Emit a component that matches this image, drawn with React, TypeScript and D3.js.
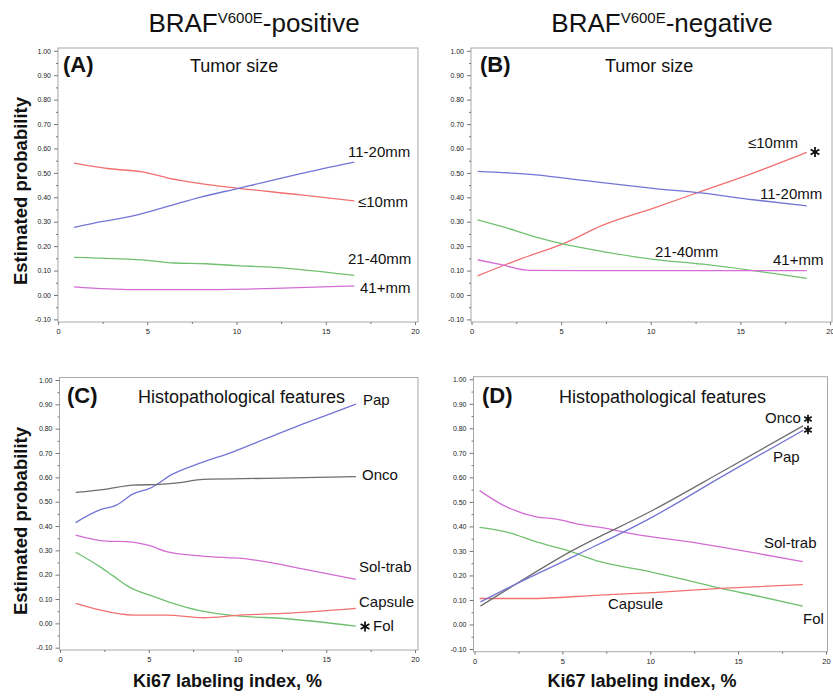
import { useEffect, useRef } from 'react';
import * as d3 from 'd3';

const FONT = '"Liberation Sans", Arial, Helvetica, sans-serif';

// axis ticks
const xTicks = [0, 5, 10, 15, 20];
const xMinor = [2.5, 7.5, 12.5, 17.5];
const yTicks = [-0.1, 0, 0.1, 0.2, 0.3, 0.4, 0.5, 0.6, 0.7, 0.8, 0.9, 1.0];
const yMinor = [-0.05, 0.05, 0.15, 0.25, 0.35, 0.45, 0.55, 0.65, 0.75, 0.85, 0.95];

// (A) BRAF positive, tumor size  [Ki67 %, probability]
const posLe10 = [[0.9, 0.54], [2.9, 0.517], [4.8, 0.503], [6.1, 0.48], [8.0, 0.456], [10.0, 0.438], [13.6, 0.41], [16.6, 0.385]];
const pos11to20 = [[0.9, 0.277], [2.5, 0.301], [4.2, 0.324], [6.1, 0.362], [8.0, 0.401], [10.0, 0.435], [11.7, 0.464], [13.6, 0.497], [16.6, 0.544]];
const pos21to40 = [[0.9, 0.154], [3.1, 0.149], [5.0, 0.142], [6.5, 0.131], [8.3, 0.128], [10.0, 0.12], [11.7, 0.115], [13.6, 0.104], [16.6, 0.08]];
const pos41plus = [[0.9, 0.033], [4.2, 0.022], [8.0, 0.022], [11.7, 0.026], [16.6, 0.037]];

// (B) BRAF negative, tumor size
const negLe10 = [[0.34, 0.078], [2.67, 0.146], [5.1, 0.209], [7.33, 0.286], [10.12, 0.355], [12.92, 0.427], [15.71, 0.499], [18.7, 0.584]];
const neg11to20 = [[0.34, 0.506], [3.6, 0.492], [6.39, 0.468], [10.12, 0.437], [12.92, 0.417], [15.71, 0.39], [18.7, 0.365]];
const neg21to40 = [[0.34, 0.308], [1.73, 0.28], [3.6, 0.237], [5.1, 0.209], [7.33, 0.178], [10.12, 0.146], [12.92, 0.126], [15.71, 0.1], [18.7, 0.068]];
const neg41plus = [[0.34, 0.144], [1.73, 0.123], [3.22, 0.101], [6.39, 0.1], [12.92, 0.1], [18.7, 0.1]];

// (C) BRAF positive, histopathological features
const posPap = [[0.88, 0.414], [2.24, 0.466], [3.18, 0.486], [4.12, 0.532], [5.06, 0.555], [6.37, 0.614], [7.88, 0.658], [9.76, 0.705], [11.64, 0.76], [13.52, 0.815], [15.4, 0.866], [16.67, 0.901]];
const posOnco = [[0.88, 0.538], [2.61, 0.552], [4.12, 0.568], [5.62, 0.571], [6.75, 0.578], [8.06, 0.592], [11.64, 0.596], [16.67, 0.603]];
const posSolTrab = [[0.88, 0.363], [2.61, 0.338], [3.74, 0.336], [5.06, 0.319], [6.0, 0.295], [7.88, 0.277], [10.7, 0.263], [11.64, 0.253], [13.52, 0.226], [16.67, 0.181]];
const posFol = [[0.88, 0.292], [2.24, 0.233], [2.99, 0.195], [3.93, 0.148], [5.06, 0.116], [6.37, 0.082], [7.88, 0.052], [10.13, 0.03], [12.58, 0.02], [16.67, -0.011]];
const posCapsule = [[0.88, 0.082], [2.24, 0.055], [4.12, 0.034], [6.0, 0.034], [8.06, 0.023], [10.13, 0.034], [12.58, 0.041], [16.67, 0.062]];

// (D) BRAF negative, histopathological features
const negOnco = [[0.34, 0.075], [1.8, 0.14], [5.4, 0.295], [10.17, 0.467], [14.0, 0.62], [18.7, 0.81]];
const negPap = [[0.34, 0.092], [1.8, 0.145], [5.8, 0.283], [10.17, 0.44], [14.0, 0.6], [18.7, 0.792]];
const negSolTrab = [[0.29, 0.546], [1.62, 0.487], [3.52, 0.439], [4.66, 0.43], [5.99, 0.408], [7.15, 0.396], [9.0, 0.37], [12.85, 0.33], [15.87, 0.293], [18.68, 0.256]];
const negFol = [[0.29, 0.396], [2.0, 0.374], [3.52, 0.337], [5.23, 0.303], [7.15, 0.256], [10.0, 0.215], [11.9, 0.184], [14.0, 0.147], [16.3, 0.113], [18.68, 0.075]];
const negCapsule = [[0.29, 0.106], [3.1, 0.106], [7.15, 0.12], [10.17, 0.13], [14.0, 0.147], [18.68, 0.163]];

const RED = '#f27070';
const BLUE = '#7474d6';
const GREEN = '#70c070';
const PINK = '#d46cd4';
const GRAY = '#6e6e6e';

const panels = [
  {
    tag: '(A)', tagPos: [63, 72], title: 'Tumor size', titlePos: [190, 72],
    frame: [58, 48, 418, 322], xr: [58, 415], yr: [319.4, 50.8],
    series: [[posLe10, RED], [pos11to20, BLUE], [pos21to40, GREEN], [pos41plus, PINK]],
    labels: [['11-20mm', 348, 157], ['\u226410mm', 358, 206.5], ['21-40mm', 348, 264], ['41+mm', 360, 292.5]],
    stars: [],
  },
  {
    tag: '(B)', tagPos: [480, 72], title: 'Tumor size', titlePos: [605, 72],
    frame: [471, 48, 832, 322], xr: [471.5, 830], yr: [319.4, 50.8],
    series: [[negLe10, RED], [neg11to20, BLUE], [neg21to40, GREEN], [neg41plus, PINK]],
    labels: [['\u226410mm', 748, 148], ['11-20mm', 760, 199], ['21-40mm', 655, 257], ['41+mm', 773, 265]],
    stars: [[815, 152, 5]],
  },
  {
    tag: '(C)', tagPos: [67, 403], title: 'Histopathological features', titlePos: [138, 403],
    frame: [59.5, 377.5, 418, 650], xr: [60, 415], yr: [647.7, 380],
    series: [[posPap, BLUE], [posOnco, GRAY], [posSolTrab, PINK], [posFol, GREEN], [posCapsule, RED]],
    labels: [['Pap', 363, 405], ['Onco', 362, 480], ['Sol-trab', 359, 572], ['Capsule', 359, 607], ['Fol', 373, 631]],
    stars: [[365, 626.5, 5]],
  },
  {
    tag: '(D)', tagPos: [482, 403], title: 'Histopathological features', titlePos: [559, 403],
    frame: [473.5, 376.7, 827.5, 651.7], xr: [474.5, 826], yr: [649, 379.3],
    series: [[negSolTrab, PINK], [negFol, GREEN], [negCapsule, RED], [negOnco, GRAY], [negPap, BLUE]],
    labels: [['Onco', 765, 422.5], ['Pap', 773, 461.5], ['Sol-trab', 764, 548], ['Capsule', 608, 609], ['Fol', 803, 624]],
    stars: [[808, 419, 4.3], [808, 430, 4.3]],
  },
];

const headers = [['positive', 254], ['negative', 662]];
const yLabels = [191, 521];
const xLabels = [[227.5, 687], [642, 687]];

export default function App() {
  const svgRef = useRef(null);

  useEffect(() => {
    const svg = d3.select(svgRef.current);
    svg.selectAll('*').remove();
    svg.append('rect').attr('width', 833).attr('height', 696).attr('fill', '#fff');

    headers.forEach(([word, cx]) => {
      const t = svg.append('text')
        .attr('x', cx).attr('y', 32)
        .attr('text-anchor', 'middle')
        .attr('font-family', FONT).attr('font-size', 26).attr('fill', '#111');
      t.append('tspan').text('BRAF');
      t.append('tspan').attr('font-size', 15).attr('dy', -9).text('V600E');
      t.append('tspan').attr('dy', 9).text(`-${word}`);
    });

    yLabels.forEach((cy) => {
      svg.append('text')
        .attr('transform', `translate(27,${cy}) rotate(-90)`)
        .attr('text-anchor', 'middle')
        .attr('font-family', FONT).attr('font-size', 18.5).attr('font-weight', 700).attr('fill', '#111')
        .text('Estimated probability');
    });

    xLabels.forEach(([cx, by]) => {
      svg.append('text')
        .attr('x', cx).attr('y', by)
        .attr('text-anchor', 'middle')
        .attr('font-family', FONT).attr('font-size', 18).attr('font-weight', 700).attr('fill', '#111')
        .text('Ki67 labeling index, %');
    });

    panels.forEach((p) => {
      const [fl, ft, fr, fb] = p.frame;
      const x = d3.scaleLinear().domain([0, 20]).range(p.xr);
      const y = d3.scaleLinear().domain([-0.1, 1.0]).range(p.yr);
      const g = svg.append('g');

      g.append('rect')
        .attr('x', fl).attr('y', ft).attr('width', fr - fl).attr('height', fb - ft)
        .attr('fill', 'none').attr('stroke', '#a8a8a8').attr('stroke-width', 1);

      const styleAxis = (sel) => {
        sel.select('.domain').remove();
        sel.selectAll('line').attr('stroke', '#777');
        sel.selectAll('text').attr('fill', '#222').attr('font-family', FONT);
      };

      // y axis
      g.append('g').attr('transform', `translate(${fl},0)`)
        .call(d3.axisLeft(y).tickValues(yMinor).tickSize(2).tickFormat(() => ''))
        .call(styleAxis);
      g.append('g').attr('transform', `translate(${fl},0)`)
        .call(d3.axisLeft(y).tickValues(yTicks).tickSize(4).tickPadding(3).tickFormat((d) => d.toFixed(2)))
        .call(styleAxis)
        .call((s) => s.selectAll('text').attr('font-size', 7));

      // x axis
      g.append('g').attr('transform', `translate(0,${fb})`)
        .call(d3.axisBottom(x).tickValues(xMinor).tickSize(2).tickFormat(() => ''))
        .call(styleAxis);
      g.append('g').attr('transform', `translate(0,${fb})`)
        .call(d3.axisBottom(x).tickValues(xTicks).tickSize(3).tickPadding(4).tickFormat(d3.format('d')))
        .call(styleAxis)
        .call((s) => s.selectAll('text').attr('font-size', 7.5));

      const line = d3.line().x((d) => x(d[0])).y((d) => y(d[1])).curve(d3.curveMonotoneX);
      p.series.forEach(([pts, color]) => {
        g.append('path')
          .datum(pts)
          .attr('fill', 'none')
          .attr('stroke', color)
          .attr('stroke-width', 1.3)
          .attr('d', line);
      });

      g.append('text')
        .attr('x', p.tagPos[0]).attr('y', p.tagPos[1])
        .attr('font-family', FONT).attr('font-size', 22).attr('font-weight', 700).attr('fill', '#111')
        .text(p.tag);
      g.append('text')
        .attr('x', p.titlePos[0]).attr('y', p.titlePos[1])
        .attr('font-family', FONT).attr('font-size', 18).attr('fill', '#111')
        .text(p.title);

      p.labels.forEach(([txt, lx, ly]) => {
        g.append('text')
          .attr('x', lx).attr('y', ly)
          .attr('font-family', FONT).attr('font-size', 15).attr('fill', '#111')
          .text(txt);
      });

      p.stars.forEach(([sx, sy, r]) => {
        const size = (r / 0.59436) ** 2;
        g.append('path')
          .attr('transform', `translate(${sx},${sy})`)
          .attr('d', d3.symbol(d3.symbolAsterisk, size)())
          .attr('fill', 'none').attr('stroke', '#111').attr('stroke-width', 1.8);
      });
    });
  }, []);

  return (
    <svg
      ref={svgRef}
      width={833}
      height={696}
      style={{ position: 'absolute', left: 0, top: 0, display: 'block' }}
    />
  );
}
